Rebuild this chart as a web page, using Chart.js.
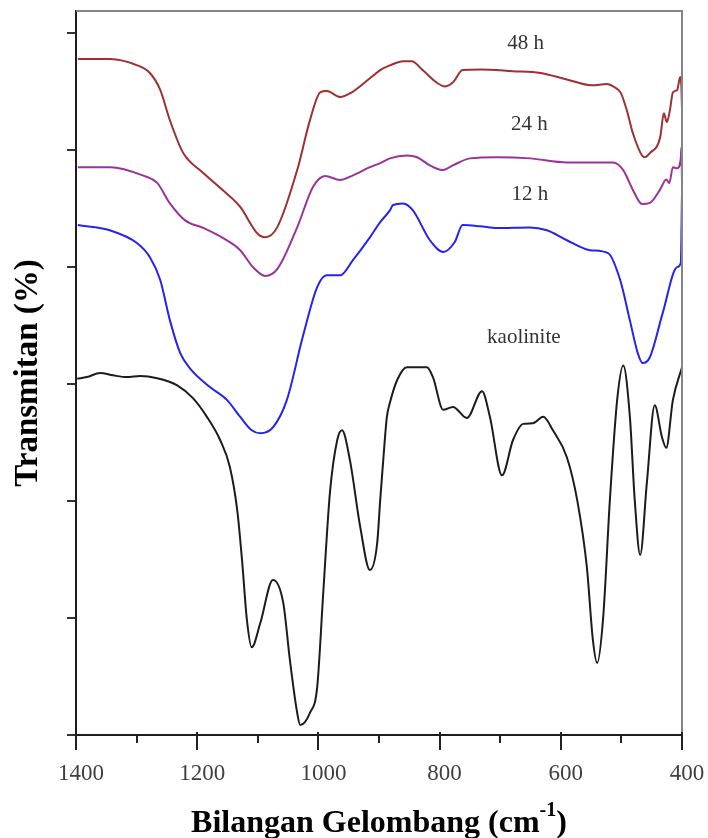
<!DOCTYPE html>
<html>
<head>
<meta charset="utf-8">
<title>FTIR</title>
<script src="https://cdn.jsdelivr.net/npm/chart.js@4/dist/chart.umd.min.js"></script>
<style>
  html, body { margin: 0; padding: 0; background: #ffffff; }
  canvas { display: block; }
</style>
</head>
<body>
<canvas id="ftir" width="708" height="838"></canvas>
<script>
// FTIR spectra, wavenumber (cm-1) vs. transmittance, listed from 1400 down to 400
const kaoliniteWn = [1398,1382,1360,1339,1316,1294,1266,1233,1207,1184,1162,1146,1134,1126,1118,1110,1096,1075,1058,1047,1035,1030,1014,1002,992,981,969,961,948,931,915,903,898,893,887,882,870,854,821,811,794,778,755,730,717,697,679,662,646,629,613,590,573,557,547,540,530,519,507,497,486,478,469,458,445,433,426,415,400];
const kaoliniteT  = [60.9,61.2,61.9,61.5,61.2,61.4,61.0,59.8,57.6,54.4,50.4,45.8,38.5,29.9,19.7,15.0,19.1,26.5,22.6,12.8,3.8,1.7,3.8,8.2,24.3,41.4,50.4,52.1,47.0,35.6,28.2,32.8,40.2,47.0,54.4,56.8,60.7,62.9,62.9,61.2,55.6,56.1,54.2,58.8,54.4,44.4,50.4,53.2,53.3,54.4,52.1,47.5,40.2,28.7,16.2,12.3,20.2,40.2,57.3,63.2,54.4,40.2,30.8,43.1,56.4,50.9,49.1,57.3,62.9];

const h12Wn = [1397,1344,1299,1278,1261,1245,1228,1212,1179,1151,1129,1110,1096,1075,1052,1026,1002,986,964,943,915,898,882,877,860,844,816,794,775,762,733,705,651,623,590,552,522,502,486,473,465,453,432,408,402,400];
const h12T  = [87.2,86.3,84.1,81.7,77.8,70.9,65.3,62.7,59.5,57.3,54.4,52.1,51.6,52.6,57.3,68.0,76.6,78.6,78.6,81.2,85.1,87.7,89.7,90.6,90.9,89.7,84.6,82.6,84.3,87.2,87.0,86.7,86.8,86.3,84.6,82.9,82.4,77.8,70.9,65.3,63.6,64.6,72.1,80.0,80.7,92.6];

const h24Wn = [1397,1344,1290,1266,1245,1220,1190,1158,1129,1108,1088,1067,1035,1009,989,964,943,915,898,882,854,837,816,796,778,750,705,651,590,514,497,481,466,453,436,426,421,415,408,402,401,400];
const h24T  = [97.1,97.1,95.7,94.4,90.9,88.0,86.7,85.0,82.9,80.0,78.5,79.8,86.8,93.7,95.6,94.9,95.7,97.1,97.8,98.6,99.1,98.8,97.4,96.6,97.4,98.6,98.8,98.6,97.9,97.9,96.6,93.2,90.8,91.0,93.3,95.0,94.4,97.1,96.9,98.6,100.5,94.4];

const h48Wn = [1397,1344,1299,1278,1261,1245,1223,1190,1158,1129,1101,1088,1068,1035,1014,997,986,964,948,915,898,882,860,846,828,804,791,778,762,733,679,634,590,549,524,512,501,491,481,466,461,453,436,430,425,420,415,408,403,401,400];
const h48T  = [115.6,115.6,114.5,113.2,110.3,105.1,99.5,96.1,93.2,90.3,85.8,85.1,86.8,96.6,105.1,109.9,110.1,109.1,109.7,112.3,113.7,114.5,115.2,115.2,113.7,111.5,110.9,111.6,113.7,113.8,113.5,113.2,112.1,111.1,111.3,110.8,109.8,106.8,102.9,99.1,98.8,99.5,102.2,106.3,104.8,106.8,109.9,110.3,112.5,110.8,107.0];

const seriesNames = ['kaolinite', '12 h', '24 h', '48 h'];
const xTickValues = [1400, 1200, 1000, 800, 600, 400];

const SERIF = "'Liberation Serif', 'Times New Roman', serif";

const toPoints = (wn, t) => wn.map((w, i) => ({ x: w, y: t[i] }));

// where each spectrum's name is written, in axis units (wavenumber, transmittance)
const nameAnchors = {
  'kaolinite': { x: 661, y: 68.0 },
  '12 h': { x: 651, y: 92.5 },
  '24 h': { x: 652, y: 104.4 },
  '48 h': { x: 658, y: 118.3 }
};

const lineStyle = (color) => ({
  borderColor: color,
  borderWidth: 2,
  pointRadius: 0,
  fill: false,
  cubicInterpolationMode: 'monotone'
});

const spectra = [
  { label: seriesNames[0], data: toPoints(kaoliniteWn, kaoliniteT), ...lineStyle('#1c1c1c') },
  { label: seriesNames[1], data: toPoints(h12Wn, h12T), ...lineStyle('#2424ee') },
  { label: seriesNames[2], data: toPoints(h24Wn, h24T), ...lineStyle('#9a329c') },
  { label: seriesNames[3], data: toPoints(h48Wn, h48T), ...lineStyle('#a03030') }
];

// frame, wavenumber ticks and labels, spectrum names and axis titles
const decorations = {
  id: 'decorations',
  afterDraw(chart) {
    const { ctx, chartArea: a, scales: { x, y } } = chart;
    ctx.save();

    // light frame on the top and right
    ctx.strokeStyle = '#858585';
    ctx.lineWidth = 2;
    ctx.beginPath();
    ctx.moveTo(a.left, a.top);
    ctx.lineTo(a.right, a.top);
    ctx.lineTo(a.right, a.bottom);
    ctx.stroke();

    // major and minor ticks across the wavenumber axis
    ctx.strokeStyle = '#222';
    ctx.lineWidth = 2;
    for (let v = 400; v <= 1400; v += 100) {
      const px = Math.round(x.getPixelForValue(v));
      const major = v % 200 === 0;
      ctx.beginPath();
      ctx.moveTo(px, a.bottom - (major ? 3 : 0));
      ctx.lineTo(px, a.bottom + (major ? 15 : 8));
      ctx.stroke();
    }

    // wavenumber tick labels
    ctx.font = '23px ' + SERIF;
    ctx.fillStyle = '#404040';
    ctx.textAlign = 'center';
    ctx.textBaseline = 'alphabetic';
    xTickValues.forEach(v => {
      ctx.fillText(String(v), x.getPixelForValue(v) + 5, a.bottom + 45);
    });

    // spectrum names
    ctx.font = '21px ' + SERIF;
    ctx.fillStyle = '#333';
    ctx.textAlign = 'center';
    ctx.textBaseline = 'middle';
    seriesNames.forEach(name => {
      const p = nameAnchors[name];
      ctx.fillText(name, x.getPixelForValue(p.x), y.getPixelForValue(p.y));
    });

    // x title with superscript
    const big = 'bold 32px ' + SERIF;
    const small = 'bold 20px ' + SERIF;
    const partA = 'Bilangan Gelombang (cm';
    const sup = '-1';
    const partB = ')';
    ctx.fillStyle = '#000';
    ctx.textAlign = 'left';
    ctx.textBaseline = 'alphabetic';
    ctx.font = big;
    const wA = ctx.measureText(partA).width;
    const wB = ctx.measureText(partB).width;
    ctx.font = small;
    const wS = ctx.measureText(sup).width;
    const total = wA + wS + wB;
    const tx = (a.left + a.right) / 2 - total / 2;
    const base = a.bottom + 97;
    ctx.font = big;
    ctx.fillText(partA, tx, base);
    ctx.font = small;
    ctx.fillText(sup, tx + wA, base - 16);
    ctx.font = big;
    ctx.fillText(partB, tx + wA + wS, base);

    // y title
    ctx.translate(a.left - 39, (a.top + a.bottom) / 2);
    ctx.rotate(-Math.PI / 2);
    ctx.textAlign = 'center';
    ctx.font = 'bold 33px ' + SERIF;
    ctx.fillText('Transmitan (%)', 0, 0);

    ctx.restore();
  }
};

new Chart(document.getElementById('ftir'), {
  type: 'line',
  data: { datasets: spectra },
  options: {
    responsive: false,
    animation: false,
    devicePixelRatio: 1,
    layout: { padding: { left: 76, right: 26, top: 11, bottom: 103 } },
    plugins: { legend: { display: false }, tooltip: { enabled: false } },
    scales: {
      x: {
        type: 'linear',
        reverse: true,
        min: 400,
        max: 1400,
        afterFit: s => { s.height = 0; },
        ticks: { display: false, stepSize: 100 },
        grid: { display: true, drawOnChartArea: false, drawTicks: false },
        border: { display: true, color: '#1e1e1e', width: 2 }
      },
      y: {
        min: 0,
        max: 123.8,
        afterFit: s => { s.width = 0; },
        ticks: { display: false, stepSize: 20, includeBounds: false },
        grid: { display: true, drawOnChartArea: false, drawTicks: true, tickLength: 9, color: '#333', lineWidth: 2 },
        border: { display: true, color: '#1e1e1e', width: 2 }
      }
    }
  },
  plugins: [decorations]
});
</script>
</body>
</html>
